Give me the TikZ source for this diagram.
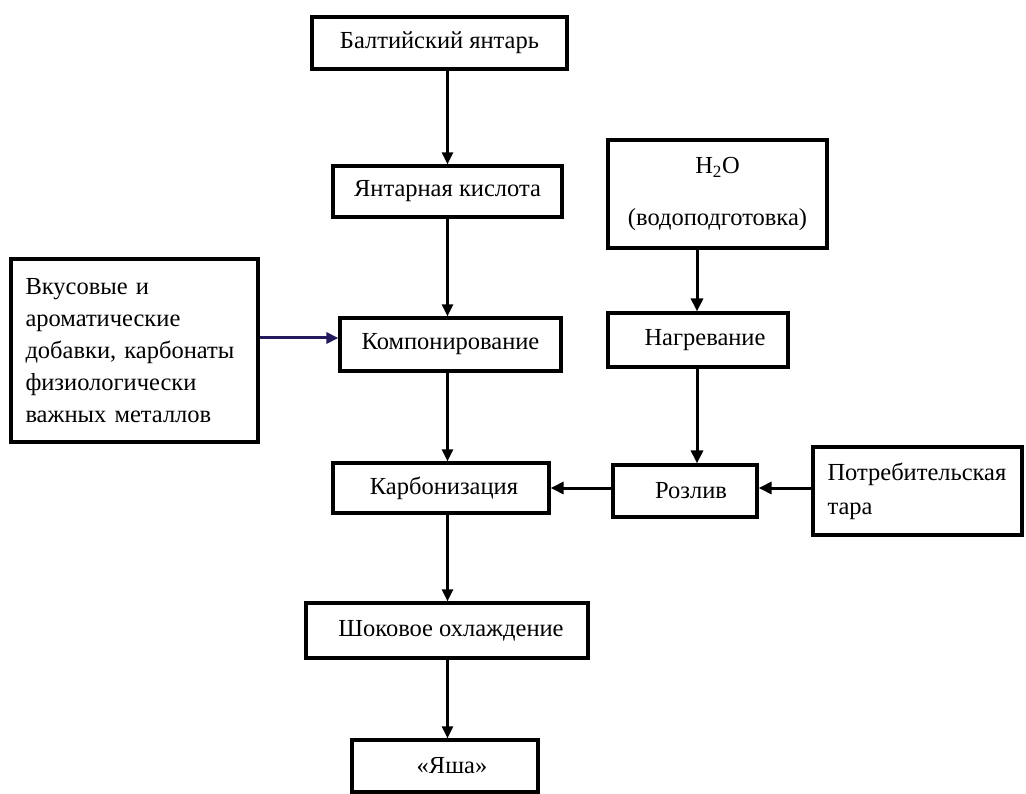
\documentclass[tikz,border=0pt]{standalone}
\usepackage{fontspec}
\setmainfont{Liberation Serif}
\usetikzlibrary{arrows.meta}
\definecolor{navy}{HTML}{231A5E}
\tikzset{
  box/.style={draw=black, line width=3.2pt, inner sep=0pt, align=center,
    font=\fontsize{24.5}{28}\selectfont},
  arr/.style={line width=2.2pt, -{Triangle[length=12pt,width=11pt]}},
  arrb/.style={line width=3pt, -{Triangle[length=13pt,width=12pt]}},
}
\begin{document}
\begin{tikzpicture}[x=1pt,y=-1pt]
\fill[white] (0,0) rectangle (1026,794);
\useasboundingbox (0,0) rectangle (1026,794);

\node[box, minimum width=255pt, minimum height=52pt] (balt) at (439.5,43) {Балтийский янтарь};
\node[box, minimum width=229pt, minimum height=51pt] (kisl) at (447.5,191.5) {Янтарная кислота};
\node[box, minimum width=219pt, minimum height=108pt,
      font=\fontsize{24.5}{52}\selectfont] (h2o) at (717.5,194) {H\textsubscript{2}O\\(водоподготовка)};
\node[box, minimum width=247pt, minimum height=183pt, text width=218pt, align=left,
      font=\fontsize{24.5}{32}\selectfont] (vkus) at (134.5,350.5)
      {Вкусовые и\\ароматические\\добавки, карбонаты\\физиологически\\важных металлов};
\node[box, minimum width=221pt, minimum height=53pt] (komp) at (450.5,344.5) {Компонирование};
\node[box, minimum width=180pt, minimum height=54pt] (nagr) at (698,340) {\hspace*{14pt}Нагревание};
\node[box, minimum width=216pt, minimum height=50pt] (karb) at (441,488) {\hspace*{6pt}Карбонизация};
\node[box, minimum width=144pt, minimum height=52pt] (rozl) at (685,491) {\hspace*{12pt}Розлив};
\node[box, minimum width=209pt, minimum height=88pt, text width=180pt, align=left,
      font=\fontsize{24.5}{34}\selectfont] (potr) at (917.5,491) {Потребительская\\тара};
\node[box, minimum width=282pt, minimum height=55pt] (shok) at (447,630.5) {\hspace*{8pt}Шоковое охлаждение};
\node[box, minimum width=186pt, minimum height=52pt] (yasha) at (445,766) {\hspace*{14pt}«Яша»};

\coordinate (cx) at (447.5,0);
\coordinate (rx) at (697,0);
\coordinate (ly) at (0,338);
\coordinate (hy) at (0,488);

\draw[arr] (balt.south -| cx) -- (kisl.north -| cx);
\draw[arr] (kisl.south -| cx) -- (komp.north -| cx);
\draw[arr] (komp.south -| cx) -- (karb.north -| cx);
\draw[arr] (karb.south -| cx) -- (shok.north -| cx);
\draw[arr] (shok.south -| cx) -- (yasha.north -| cx);
\draw[arr, draw=navy, fill=navy, line width=3pt] (vkus.east |- ly) -- (komp.west |- ly);
\draw[arrb] (h2o.south -| rx) -- (nagr.north -| rx);
\draw[arrb] (nagr.south -| rx) -- (rozl.north -| rx);
\draw[arrb] (rozl.west |- hy) -- (karb.east |- hy);
\draw[arrb] (potr.west |- hy) -- (rozl.east |- hy);
\end{tikzpicture}
\end{document}
